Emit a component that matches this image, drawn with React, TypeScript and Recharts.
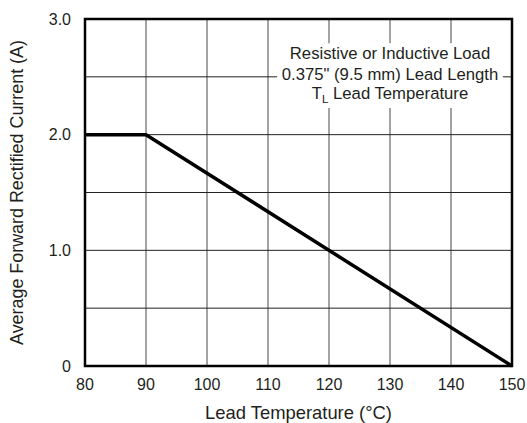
import {
  CartesianGrid,
  Label,
  Line,
  LineChart,
  ReferenceArea,
  XAxis,
  YAxis,
} from "recharts"

const LEAD_TEMP = [80, 90, 150]
const RECTIFIED_CURRENT = [2.0, 2.0, 0]
const X_TICKS = [80, 90, 100, 110, 120, 130, 140, 150]
const Y_TICKS = [0, 0.5, 1.0, 1.5, 2.0, 2.5, 3.0]
const NOTE_LINES = ["Resistive or Inductive Load", "0.375\" (9.5 mm) Lead Length"]

const FONT = "'Liberation Sans', Arial, Helvetica, sans-serif"
const TEXT_COLOR = "#231f20"

const chartData = LEAD_TEMP.map((t, i) => ({ temp: t, current: RECTIFIED_CURRENT[i] }))

const formatY = (v: number) => {
  if (v === 0) return "0"
  if (Number.isInteger(v)) return v.toFixed(1)
  return ""
}

const NoteLabel = (props: any) => {
  const { x, y, width } = props.viewBox
  const cx = x + width / 2
  return (
    <g fontFamily={FONT} fontSize={16.7} fill={TEXT_COLOR}>
      <text x={cx} y={y + 16} textAnchor="middle">{NOTE_LINES[0]}</text>
      <text x={cx} y={y + 37} textAnchor="middle">{NOTE_LINES[1]}</text>
      <text x={cx} y={y + 56} textAnchor="middle">
        T<tspan fontSize={11.5} dy={4}>L</tspan>
        <tspan dy={-4}> Lead Temperature</tspan>
      </text>
    </g>
  )
}

const YTitle = (props: any) => {
  const { y, height } = props.viewBox
  const cy = y + height / 2
  return (
    <text
      x={17}
      y={cy}
      transform={`rotate(-90, 17, ${cy})`}
      textAnchor="middle"
      dominantBaseline="central"
      fontFamily={FONT}
      fontSize={17.9}
      fill={TEXT_COLOR}
    >
      Average Forward Rectified Current (A)
    </text>
  )
}

const XTitle = (props: any) => {
  const { x, width } = props.viewBox
  return (
    <text
      x={x + width / 2}
      y={419}
      textAnchor="middle"
      fontFamily={FONT}
      fontSize={18.4}
      fill={TEXT_COLOR}
    >
      Lead Temperature (°C)
    </text>
  )
}

export default function App() {
  return (
    <div style={{ position: "absolute", left: 0, top: 0, background: "#fff" }}>
      <LineChart
        width={527}
        height={423}
        data={chartData}
        margin={{ top: 19, right: 15, bottom: 0, left: 0 }}
      >
        <CartesianGrid horizontal={false} stroke="#666" strokeWidth={1.2} />
        <CartesianGrid vertical={false} stroke="#222" strokeWidth={1} />
        <XAxis
          dataKey="temp"
          type="number"
          domain={[80, 150]}
          ticks={X_TICKS}
          height={57}
          axisLine={false}
          tickLine={false}
          tickSize={0}
          tickMargin={13}
          tick={{ fill: TEXT_COLOR, fontSize: 16, fontFamily: FONT }}
          interval={0}
        >
          <Label content={XTitle} />
        </XAxis>
        <YAxis
          type="number"
          domain={[0, 3]}
          ticks={Y_TICKS}
          width={85}
          axisLine={false}
          tickLine={false}
          tickSize={0}
          tickMargin={14}
          interval={0}
          tickFormatter={formatY}
          tick={{ fill: TEXT_COLOR, fontSize: 16, fontFamily: FONT }}
        >
          <Label content={YTitle} />
        </YAxis>
        <ReferenceArea
          x1={111.5}
          x2={148.5}
          y1={2.23}
          y2={2.79}
          fill="#fff"
          fillOpacity={1}
          stroke="none"
          label={NoteLabel}
        />
        <ReferenceArea
          x1={80}
          x2={150}
          y1={0}
          y2={3}
          fill="none"
          stroke="#000"
          strokeWidth={2.5}
        />
        <Line
          type="linear"
          dataKey="current"
          stroke="#000"
          strokeWidth={3.5}
          dot={false}
          isAnimationActive={false}
        />
      </LineChart>
    </div>
  )
}
